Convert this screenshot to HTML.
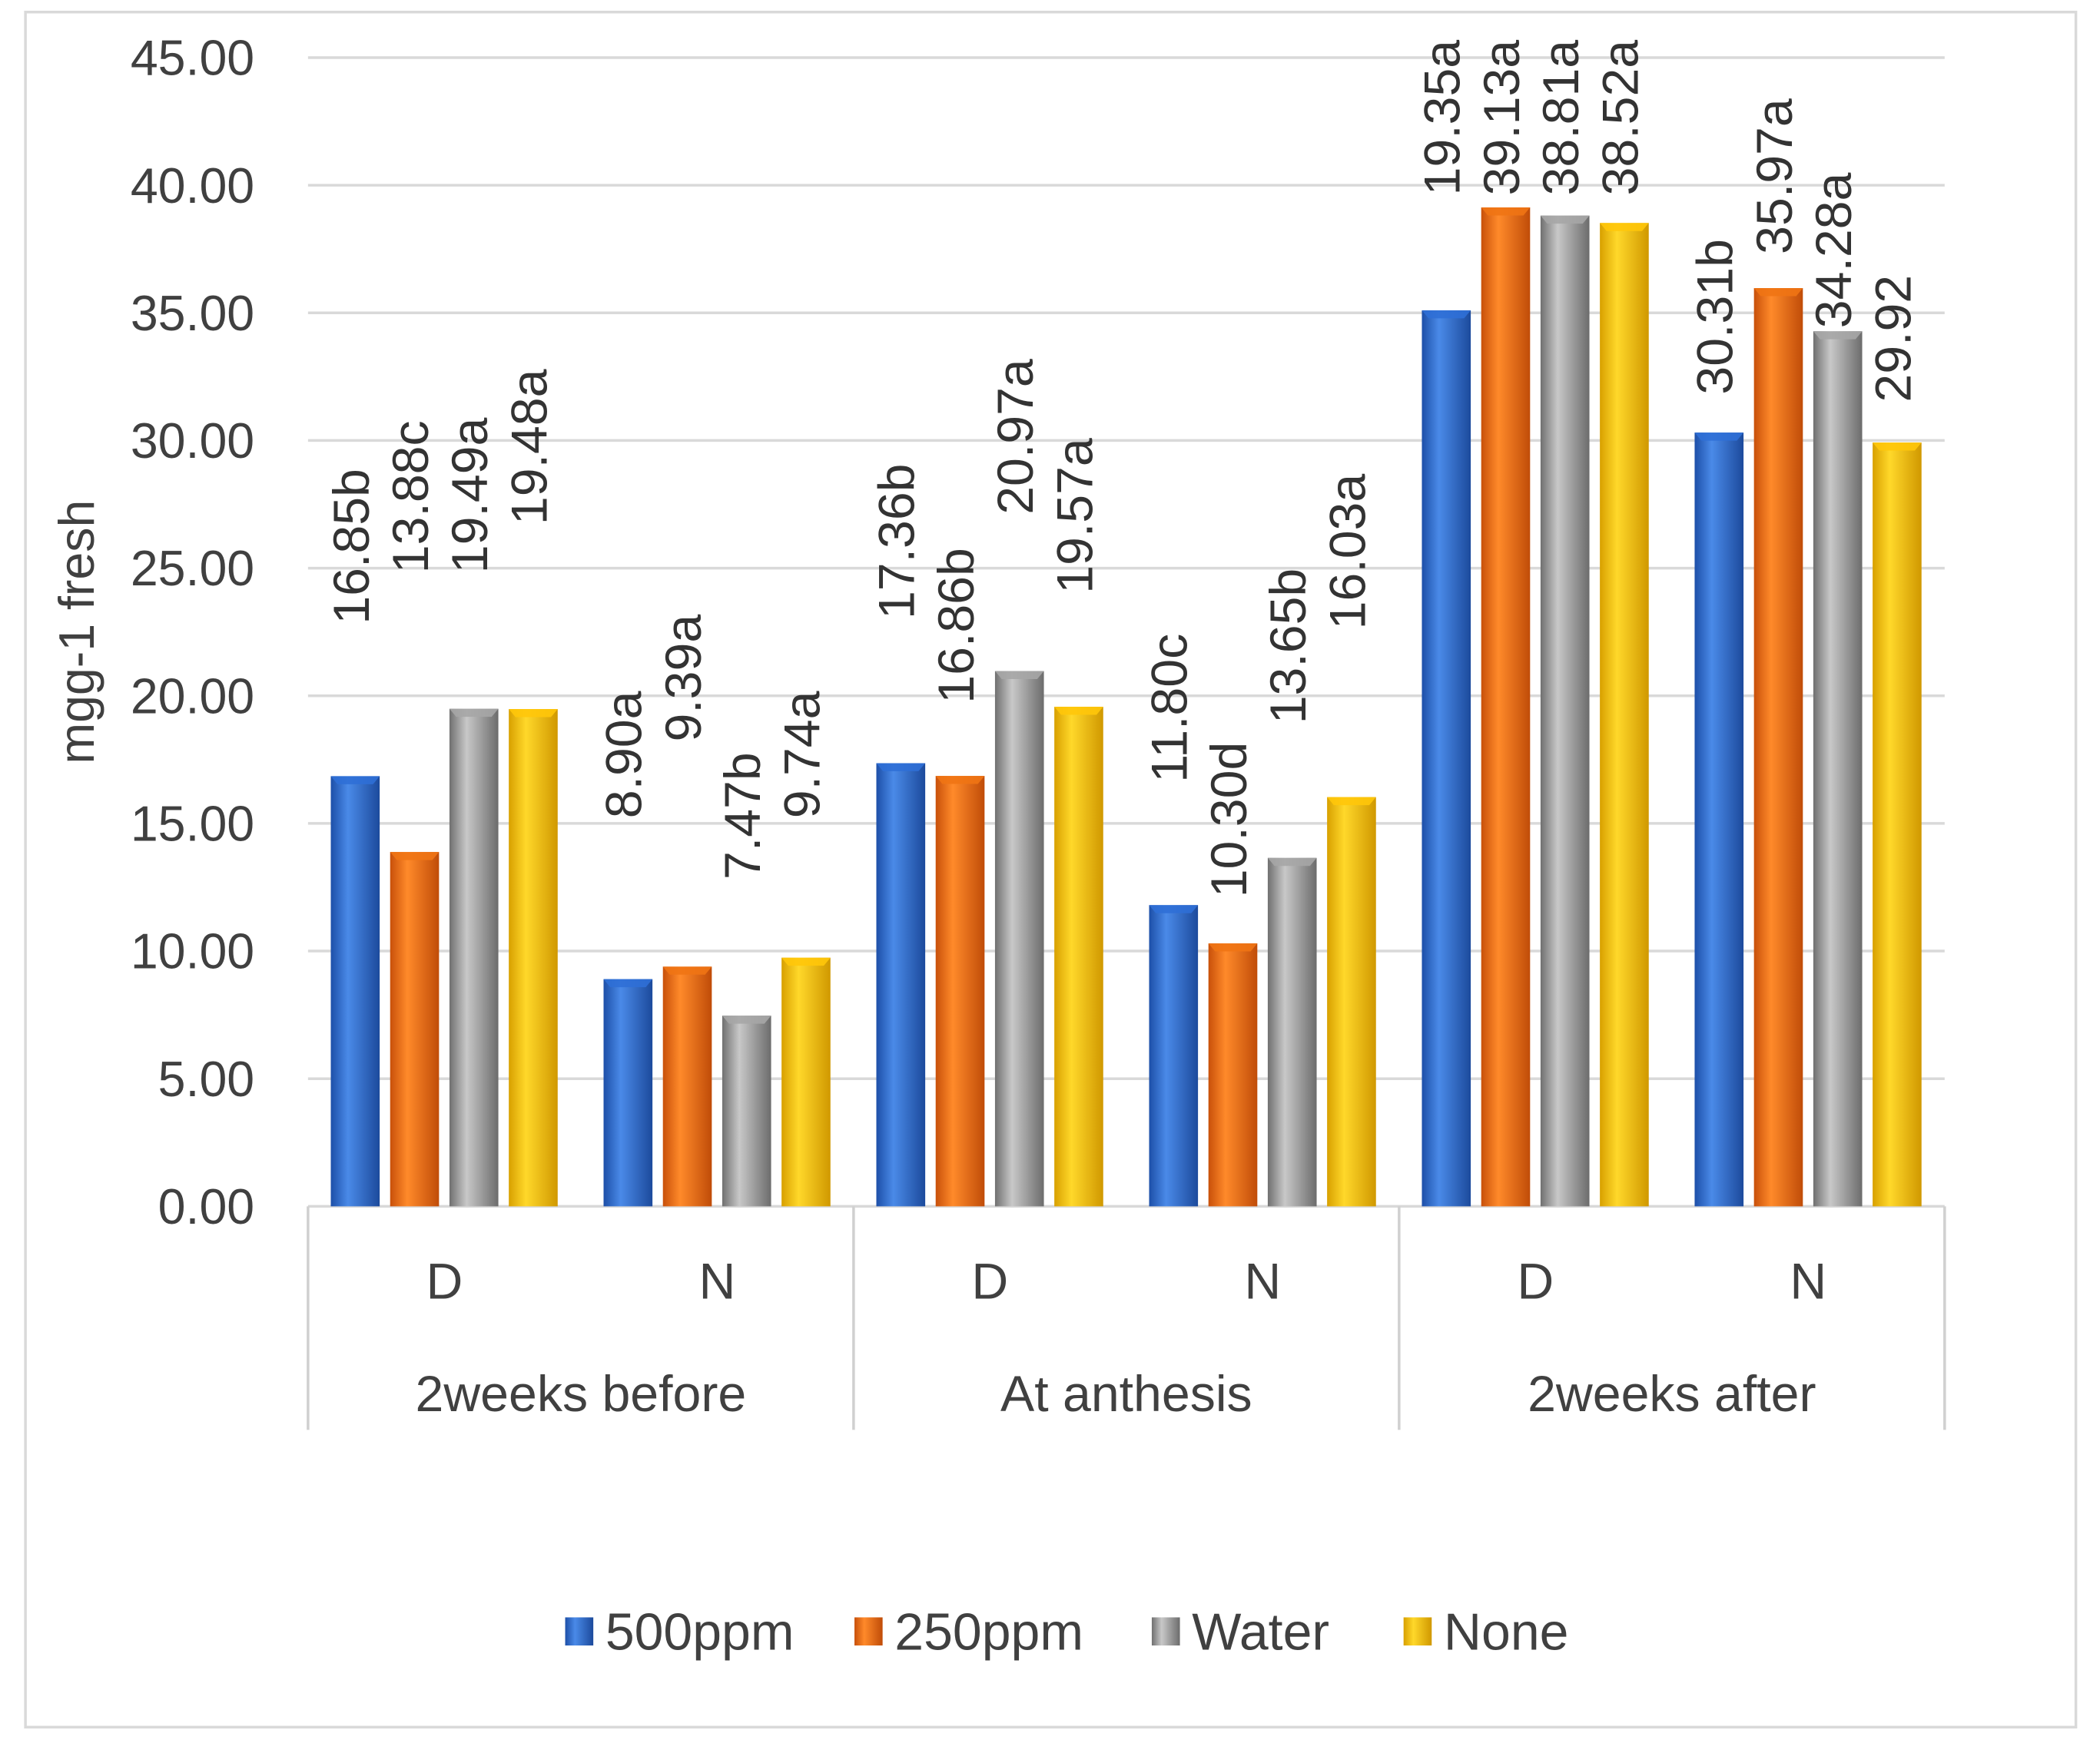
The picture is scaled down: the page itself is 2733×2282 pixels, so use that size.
<!DOCTYPE html>
<html><head><meta charset="utf-8"><style>
html,body{margin:0;padding:0;background:#fff;}
svg{display:block;font-family:"Liberation Sans",sans-serif;}
</style></head><body>
<svg id="chart" width="2733" height="2282" viewBox="0 0 1568 1309.3" preserveAspectRatio="none" xmlns="http://www.w3.org/2000/svg">
<defs>
<linearGradient id="g0" x1="0" x2="1"><stop offset="0" stop-color="#1d4fa8"/><stop offset="0.35" stop-color="#4a8ae8"/><stop offset="1" stop-color="#1c4a9c"/></linearGradient>
<linearGradient id="g1" x1="0" x2="1"><stop offset="0" stop-color="#c8500a"/><stop offset="0.35" stop-color="#ff8a2a"/><stop offset="1" stop-color="#c04c08"/></linearGradient>
<linearGradient id="g2" x1="0" x2="1"><stop offset="0" stop-color="#707070"/><stop offset="0.35" stop-color="#c8c8c8"/><stop offset="1" stop-color="#6c6c6c"/></linearGradient>
<linearGradient id="g3" x1="0" x2="1"><stop offset="0" stop-color="#d8a000"/><stop offset="0.35" stop-color="#ffd82a"/><stop offset="1" stop-color="#d09800"/></linearGradient>
</defs>
<rect x="19" y="9" width="1531" height="1281" fill="#fff" stroke="#d9d9d9" stroke-width="2"/>
<g id="grid"></g><g id="bars"></g><g id="labels"></g><g id="axis"></g>
<text transform="translate(70,472) rotate(-90)" text-anchor="middle" font-size="37" fill="#404040">mgg-1 fresh</text>
<g id="legend"></g>
</svg>
<script>
const groups = ["2weeks before","At anthesis","2weeks after"];
const subcats = ["D","N","D","N","D","N"];
const seriesNames = ["500ppm","250ppm","Water","None"];
const s500 = [16.85, 8.90, 17.36, 11.80, 35.10, 30.31];
const s250 = [13.88, 9.39, 16.86, 10.30, 39.13, 35.97];
const sWater = [19.49, 7.47, 20.97, 13.65, 38.81, 34.28];
const sNone = [19.48, 9.74, 19.57, 16.03, 38.52, 29.92];
const lab500 = ["16.85b","8.90a","17.36b","11.80c","19.35a","30.31b"];
const lab250 = ["13.88c","9.39a","16.86b","10.30d","39.13a","35.97a"];
const labWater = ["19.49a","7.47b","20.97a","13.65b","38.81a","34.28a"];
const labNone = ["19.48a","9.74a","19.57a","16.03a","38.52a","29.92"];
const anc500 = [22.8,15.2,23.0,16.6,39.6,31.8];
const anc250 = [24.8,18.2,19.7,12.1,39.6,37.3];
const ancWater = [24.8,12.8,27.1,18.9,39.6,34.4];
const ancNone = [26.7,15.2,24.0,22.6,39.6,31.5];
const yTicks = [0,5,10,15,20,25,30,35,40,45];

const series=[s500,s250,sWater,sNone], labs=[lab500,lab250,labWater,labNone], ancs=[anc500,anc250,ancWater,ancNone];
const NS="http://www.w3.org/2000/svg";
const X0=230,X1=1452,Y0=901,Y45=43;
const y=v=>Y0-(v/45)*(Y0-Y45);
const cw=(X1-X0)/6;
const barX=(c,s)=>X0+c*cw+17+s*44.3;
const BW=36.5;
function mk(tag,attrs,parent){const e=document.createElementNS(NS,tag);for(const k in attrs)e.setAttribute(k,attrs[k]);parent.appendChild(e);return e;}
const grid=document.getElementById('grid'),bars=document.getElementById('bars'),labels=document.getElementById('labels'),axis=document.getElementById('axis'),legend=document.getElementById('legend');
yTicks.forEach(t=>{
  const l=mk('line',{x1:X0,x2:X1,y1:y(t),y2:y(t),stroke:'#d9d9d9','stroke-width':2},grid);
  
  
  const tx=mk('text',{x:190,y:y(t)+13,'text-anchor':'end','font-size':37,fill:'#404040'},axis);
  tx.textContent=t.toFixed(2);
  
  
});
const cols=['#2f6fd6','#f07414','#a6a6a6','#ffc60a'];
series.forEach((arr,s)=>{
  arr.forEach((v,c)=>{
    const x=barX(c,s);
    const r=mk('rect',{x:x,y:y(v),width:BW,height:Y0-y(v),fill:'url(#g'+s+')'},bars);
    
    
    const cap=mk('polygon',{points:`${x},${y(v)} ${x+BW},${y(v)} ${x+BW-5},${y(v)+6} ${x+5},${y(v)+6}`,fill:cols[s],opacity:0.9},bars);
    
    
    const lx=x+BW/2+10, ly=y(ancs[s][c]);
    const t=mk('text',{transform:`translate(${lx},${ly}) rotate(-90)`,'font-size':38,fill:'#333'},labels);
    t.textContent=labs[s][c];
    
    
  });
});
[0,1,2,3].forEach(i=>{
  const x=X0+i*2*cw;
  const l=mk('line',{x1:x,x2:x,y1:Y0,y2:1068,stroke:'#d0d0d0','stroke-width':2},axis);
  
  
});
subcats.forEach((s,c)=>{
  const t=mk('text',{x:X0+c*cw+cw/2,y:970,'text-anchor':'middle','font-size':38,fill:'#404040'},axis);
  t.textContent=s;
  
  
});
groups.forEach((g,i)=>{
  const t=mk('text',{x:X0+i*2*cw+cw,y:1054,'text-anchor':'middle','font-size':38,fill:'#404040'},axis);
  t.textContent=g;
  
  
});
const lx=[422,638,860,1048];
seriesNames.forEach((n,i)=>{
  const r=mk('rect',{x:lx[i],y:1208,width:21,height:21,fill:'url(#g'+i+')'},legend);
  
  
  const t=mk('text',{x:lx[i]+30,y:1232,'font-size':39,fill:'#404040'},legend);
  t.textContent=n;
  
  
});
</script>
</body></html>
